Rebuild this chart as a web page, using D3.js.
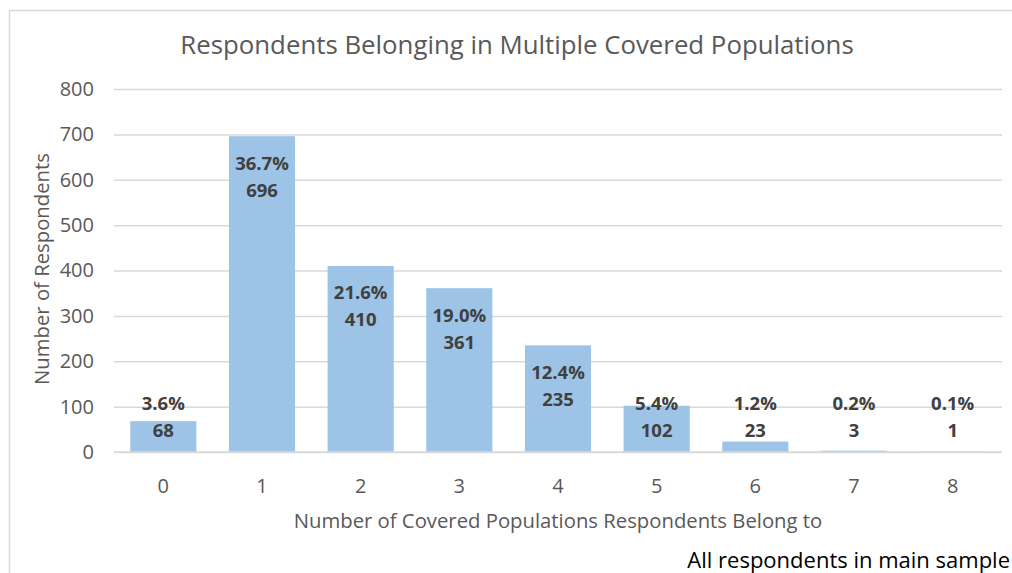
<!DOCTYPE html>
<html><head><meta charset="utf-8">
<script src="https://cdn.jsdelivr.net/npm/d3@7"></script>
<style>
body{margin:0;background:#fff;}
svg{display:block;font-family:"Open Sans",Lato,sans-serif;}
</style></head>
<body><svg id="c" width="1012" height="573"></svg>
<script>
const categories = ["0","1","2","3","4","5","6","7","8"];
const counts = [68,696,410,361,235,102,23,3,1];
const percents = ["3.6%","36.7%","21.6%","19.0%","12.4%","5.4%","1.2%","0.2%","0.1%"];
const yTicks = [0,100,200,300,400,500,600,700,800];

const svg = d3.select("#c");
const m = {left:114, right:1002, top:89, bottom:452};

svg.append("rect").attr("x",9.5).attr("y",10.5).attr("width",1010).attr("height",580)
  .attr("fill","#fff").attr("stroke","#d9d9d9").attr("stroke-width",1.5);

const x = d3.scaleBand().domain(categories).range([m.left,m.right]).paddingInner(0.33).paddingOuter(0.165);
const y = d3.scaleLinear().domain([0,800]).range([m.bottom,m.top]);

const yAxis = d3.axisLeft(y).tickValues(yTicks).tickSize(-(m.right-m.left)).tickPadding(20);
const gy = svg.append("g").attr("transform",`translate(${m.left},0)`).call(yAxis);
gy.select(".domain").remove();
gy.selectAll(".tick line").attr("stroke","#d9d9d9").attr("stroke-width",1.5);
gy.selectAll(".tick text").attr("fill","#595959").attr("font-size",20).attr("font-family","'Open Sans'");

const xAxis = d3.axisBottom(x).tickSize(0).tickPadding(27);
const gx = svg.append("g").attr("transform",`translate(0,${m.bottom})`).call(xAxis);
gx.select(".domain").remove();
gx.selectAll(".tick text").attr("fill","#595959").attr("font-size",20).attr("font-family","'Open Sans'");

svg.append("g").selectAll("rect").data(counts).join("rect")
  .attr("x",(d,i)=>x(categories[i])).attr("width",x.bandwidth())
  .attr("y",d=>y(d)).attr("height",d=>y(0)-y(d)).attr("fill","#9dc3e6");

svg.append("line").attr("x1",m.left).attr("x2",m.right).attr("y1",y(0)).attr("y2",y(0))
  .attr("stroke","#d9d9d9").attr("stroke-width",1.5);

const lab = svg.append("g").attr("font-weight","bold").attr("fill","#404040").attr("font-size",18.5)
  .attr("text-anchor","middle");
counts.forEach((d,i)=>{
  const cx = x(categories[i]) + x.bandwidth()/2;
  const c1 = Math.min(y(d)+27, y(0)-48);
  lab.append("text").attr("x",cx).attr("y",c1).attr("dy","0.35em").text(percents[i]);
  lab.append("text").attr("x",cx).attr("y",c1+27).attr("dy","0.35em").text(d);
});

svg.append("text").attr("x",517).attr("y",45).attr("dy","0.35em").attr("text-anchor","middle")
  .attr("fill","#595959").attr("font-size",25.8).text("Respondents Belonging in Multiple Covered Populations");
svg.append("text").attr("x",558).attr("y",521).attr("dy","0.35em").attr("text-anchor","middle")
  .attr("fill","#595959").attr("font-size",20.3).text("Number of Covered Populations Respondents Belong to");
svg.append("text").attr("transform","translate(42,269) rotate(-90)").attr("dy","0.35em").attr("text-anchor","middle")
  .attr("fill","#595959").attr("font-size",20.3).text("Number of Respondents");
svg.append("text").attr("x",1010).attr("y",560).attr("dy","0.35em").attr("text-anchor","end")
  .attr("fill","#000").attr("font-size",22).text("All respondents in main sample");
</script></body></html>
